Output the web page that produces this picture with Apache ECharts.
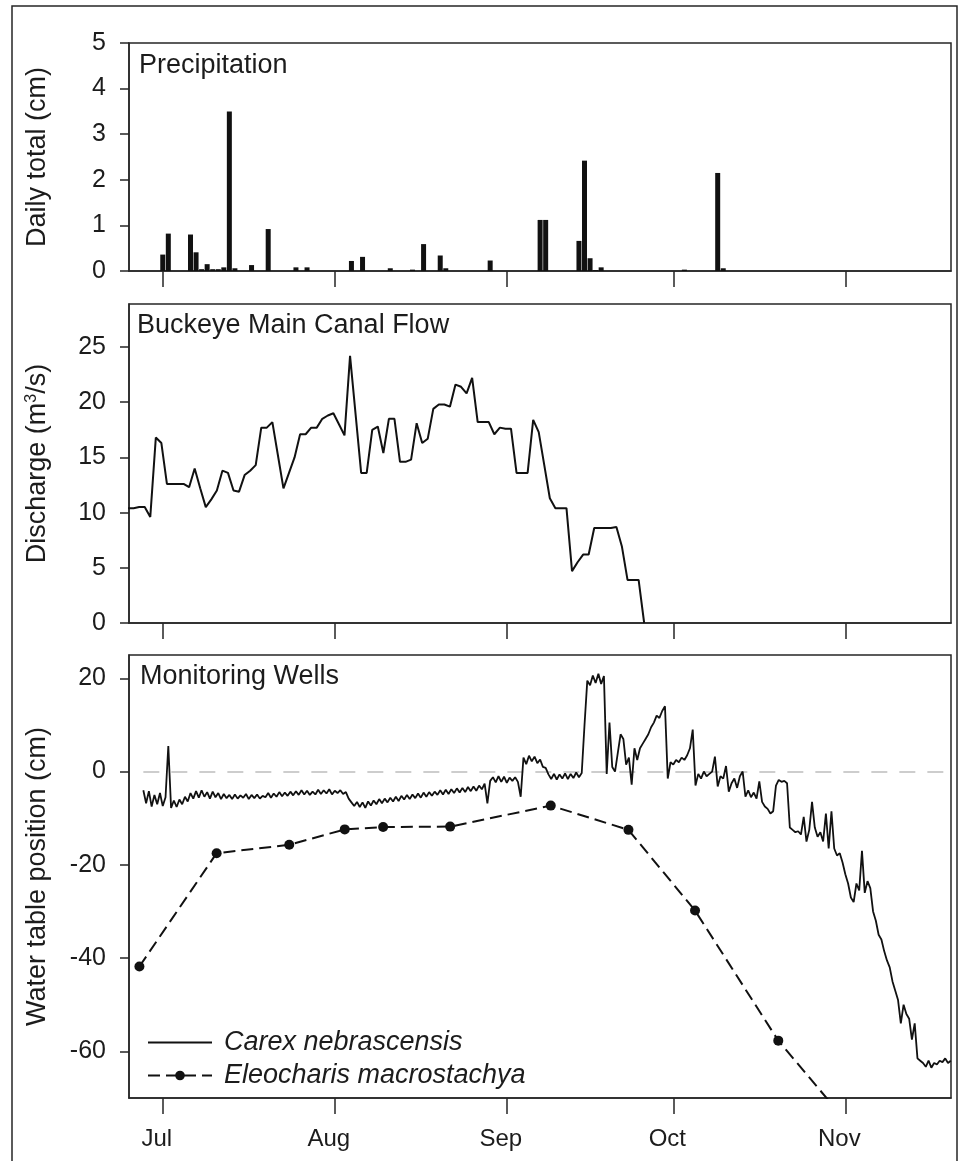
<!DOCTYPE html>
<html>
<head>
<meta charset="utf-8">
<title>Precipitation, canal flow and monitoring wells</title>
<script src="https://cdn.jsdelivr.net/npm/echarts@6.0.0/dist/echarts.min.js"></script>
<style>
  html, body { margin: 0; padding: 0; background: #fff; }
  #chart { width: 959px; height: 1161px; }
</style>
</head>
<body>
<div id="chart"></div>
<script>
// x axis ticks (month starts) and their labels
const monthTicks = ['2012-07-01', '2012-08-01', '2012-09-01', '2012-10-01', '2012-11-01'];
const monthLabels = ['Jul', 'Aug', 'Sep', 'Oct', 'Nov'];

// y axis ticks for each panel
const precipTicks = [0, 1, 2, 3, 4, 5];
const dischargeTicks = [0, 5, 10, 15, 20, 25];
const wellTicks = [-60, -40, -20, 0, 20];

// daily precipitation total (cm)
const precipDates = ['2012-07-01', '2012-07-02', '2012-07-06', '2012-07-07', '2012-07-08', '2012-07-09',
  '2012-07-10', '2012-07-11', '2012-07-12', '2012-07-13', '2012-07-14', '2012-07-17', '2012-07-20',
  '2012-07-25', '2012-07-27', '2012-08-04', '2012-08-06', '2012-08-11', '2012-08-15', '2012-08-17',
  '2012-08-20', '2012-08-21', '2012-08-29', '2012-09-07', '2012-09-08', '2012-09-14', '2012-09-15',
  '2012-09-16', '2012-09-17', '2012-09-18', '2012-10-03', '2012-10-09', '2012-10-10'];
const precipValues = [0.36, 0.82, 0.80, 0.41, 0.04, 0.15,
  0.04, 0.04, 0.08, 3.50, 0.06, 0.13, 0.92,
  0.08, 0.08, 0.22, 0.31, 0.06, 0.03, 0.59,
  0.34, 0.06, 0.23, 1.12, 1.12, 0.66, 2.42,
  0.28, 0.02, 0.08, 0.03, 2.15, 0.06];

// canal discharge (m3/s), one value per day starting Jun 24
const dischargeStart = '2012-06-24 18:00';
const dischargeValues = [
  10.4, 10.4, 10.5, 10.5, 9.6, 16.8, 16.3,
  12.6, 12.6, 12.6, 12.6, 12.3, 14.0, 12.2, 10.5, 11.2, 12.0, 13.8, 13.6, 12.0, 11.9, 13.4, 13.8,
  14.3, 17.7, 17.7, 18.2, 15.2, 12.2, 13.6, 15.0, 17.1, 17.1, 17.7, 17.7, 18.5, 18.8, 19.0,
  18.0, 17.0, 24.2, 18.9, 13.6, 13.6, 17.5, 17.8, 15.4, 18.5, 18.5, 14.6, 14.6, 14.8, 18.1,
  16.3, 16.7, 19.4, 19.8, 19.8, 19.6, 21.6, 21.4, 20.8, 22.2, 18.2, 18.2, 18.2, 17.1, 17.7, 17.6,
  17.6, 13.6, 13.6, 13.6, 18.4, 17.3, 14.3, 11.3, 10.4, 10.4, 10.4, 4.7, 5.5, 6.2, 6.2,
  8.6, 8.6, 8.6, 8.6, 8.7, 6.9, 3.9, 3.9, 3.9, 0
];

// Carex nebrascensis well, water table (cm), every 12 h from Jun 27 12:00
const carexStart = '2012-06-27 12:00';
const carexValues = [
  -4.0, -6.8, -4.2, -7.5, -5.0, -7.0, -4.6, -7.4, -5.5, 5.5, -7.8, -6.2, -7.6, -6.0,
  -7.0, -5.4, -6.4, -4.6, -5.8, -4.2, -5.6, -4.0, -5.4, -4.4, -5.8, -4.3, -5.5, -4.6,
  -5.9, -4.8, -5.7, -5.0, -5.9, -4.9, -5.8, -5.1, -5.6, -4.8, -5.9, -5.0, -5.7, -4.9,
  -5.8, -5.2, -5.5, -4.6, -5.6, -4.7, -5.4, -4.4, -5.3, -4.5, -5.2, -4.3, -5.1, -4.2,
  -5.0, -4.0, -4.9, -4.1, -5.0, -4.3, -4.9, -3.9, -4.8, -4.0, -4.7, -3.8, -4.9, -4.1,
  -4.6, -4.0, -4.8, -4.4, -5.8, -6.6, -7.4, -6.5, -7.6, -6.6, -7.8, -6.4, -7.3, -6.2,
  -7.0, -5.9, -6.8, -5.8, -6.6, -5.6, -6.4, -5.4, -6.3, -5.2, -6.0, -5.0, -5.9, -4.9,
  -5.7, -4.7, -5.6, -4.5, -5.4, -4.4, -5.2, -4.3, -5.0, -4.0, -4.9, -3.9, -4.8, -3.8,
  -4.6, -3.6, -4.5, -3.5, -4.4, -3.3, -4.2, -3.2, -4.1, -3.0, -3.8, -2.6, -6.8, -2.0,
  -1.2, -2.3, -1.0, -2.2, -1.1, -2.4, -1.3, -2.0, -1.2, -2.2, -5.4, 3.0, 1.6, 3.4,
  2.2, 3.2, 1.8, 2.6, 1.0, 0.8, -0.6, -1.6, -0.5, -1.7, -0.6, -1.5, -0.4, -1.6,
  -0.5, -1.4, -0.2, -1.2, -0.3, 10.0, 19.5, 18.5, 20.6, 19.0, 21.0, 18.8, 20.5, -0.5,
  10.5, 1.0, 0.0, 4.0, 8.0, 7.0, 1.5, 3.0, -2.8, 5.0, 2.5, 5.0, 6.0, 7.0,
  8.0, 9.5, 10.5, 12.0, 11.5, 13.0, 14.0, -1.5, 2.0, 1.5, 2.5, 2.0, 3.0, 2.5,
  3.5, 5.0, 9.0, -3.0, -0.5, -1.5, 0.0, -1.0, -0.5, 0.0, 3.2, -3.2, -1.0, -1.5,
  1.2, -4.3, -2.5, -1.5, -3.5, -1.0, 0.0, -5.4, -4.0, -5.5, -4.5, -5.8, -2.1, -6.5,
  -7.5, -8.0, -9.0, -8.5, -3.0, -1.8, -2.2, -2.0, -2.5, -12.0, -12.5, -13.0, -12.8, -13.5,
  -9.7, -15.0, -12.5, -6.5, -12.0, -14.0, -13.0, -15.0, -9.0, -16.5, -8.5, -16.5, -18.0, -17.5,
  -19.5, -22.0, -24.0, -27.0, -28.0, -24.0, -25.5, -17.0, -26.0, -23.5, -25.0, -30.0, -32.0, -35.0,
  -36.0, -38.5, -40.5, -42.0, -45.0, -47.0, -49.0, -54.0, -50.0, -52.0, -53.0, -57.5, -54.0, -61.5,
  -62.0, -62.5, -63.3, -62.0, -63.5, -62.5, -62.8, -62.0, -62.3, -61.5, -62.5, -62.0
];

// Eleocharis macrostachya well readings (cm)
const eleoDates = ['2012-06-26 19:00', '2012-07-10 17:00', '2012-07-23 19:00', '2012-08-02 19:00',
  '2012-08-09 17:00', '2012-08-21 19:00', '2012-09-08 22:00', '2012-09-22 22:00',
  '2012-10-04 22:00', '2012-10-19 22:00', '2012-11-02 22:00'];
const eleoValues = [-41.8, -17.5, -15.7, -12.4, -11.9, -11.8, -7.3, -12.5, -29.8, -57.7, -77.5];

const DAY = 86400000;
const axisColor = '#262626';
const textColor = '#1c1c1c';
const font = "'Liberation Sans', Arial, Helvetica, sans-serif";

// parse 'yyyy-mm-dd hh:mm' as UTC timestamp
const toTime = (s) => {
  const [d, h] = s.split(' ');
  const [y, m, dd] = d.split('-').map(Number);
  const hh = h ? Number(h.split(':')[0]) : 0;
  return Date.UTC(y, m - 1, dd, hh);
};

const xMin = toTime('2012-06-24 22:00');
const xMax = toTime('2012-11-20 01:00');
const tickTimes = monthTicks.map(toTime);

const monthFormatter = (v) => {
  const i = tickTimes.findIndex((t) => Math.abs(t - v) < DAY / 2);
  return i >= 0 ? monthLabels[i] : '';
};

const lineStyleAxis = { color: axisColor, width: 1.5 };

// dates are kept as numbers on a value axis so the month ticks can be placed exactly
const makeXAxis = (gridIndex, showLabels) => ({
  type: 'value',
  gridIndex,
  min: xMin,
  max: xMax,
  axisLine: { show: true, onZero: false, lineStyle: lineStyleAxis },
  axisTick: { show: true, inside: false, length: 16, customValues: tickTimes, lineStyle: lineStyleAxis },
  axisLabel: {
    show: showLabels,
    customValues: tickTimes,
    formatter: monthFormatter,
    margin: 29,
    fontSize: 24,
    color: textColor,
    fontFamily: font,
    padding: [0, 12, 0, 0],
  },
  splitLine: { show: false },
});

const makeYAxis = (gridIndex, min, max, ticks, name) => ({
  type: 'value',
  gridIndex,
  min,
  max,
  name,
  nameLocation: 'middle',
  nameRotate: 90,
  nameGap: 78,
  nameTextStyle: {
    fontSize: 27,
    color: textColor,
    fontFamily: font,
    rich: { sup: { fontSize: 16, verticalAlign: 'top', color: textColor, fontFamily: font } },
  },
  axisLine: { show: true, onZero: false, lineStyle: lineStyleAxis },
  axisTick: { show: true, inside: false, length: 9, customValues: ticks, lineStyle: lineStyleAxis },
  axisLabel: { customValues: ticks, margin: 23, fontSize: 25, color: textColor, fontFamily: font },
  splitLine: { show: false },
});

const gridBase = { left: 129, width: 822, show: true, borderColor: axisColor, borderWidth: 1.5, outerBoundsMode: 'none' };

const chart = echarts.init(document.getElementById('chart'));

chart.setOption({
  animation: false,
  backgroundColor: '#fff',
  grid: [
    { ...gridBase, top: 43, height: 228 },
    { ...gridBase, top: 304, height: 319 },
    { ...gridBase, top: 655, height: 443 },
  ],
  xAxis: [makeXAxis(0, false), makeXAxis(1, false), makeXAxis(2, true)],
  yAxis: [
    makeYAxis(0, 0, 5, precipTicks, 'Daily total (cm)'),
    makeYAxis(1, 0, 28.9, dischargeTicks, 'Discharge (m{sup|3}/s)'),
    makeYAxis(2, -70, 25, wellTicks, 'Water table position (cm)'),
  ],
  legend: {
    data: ['Carex nebrascensis', 'Eleocharis macrostachya'],
    orient: 'vertical',
    left: 142,
    top: 1024,
    itemWidth: 64,
    itemHeight: 12,
    itemGap: 6,
    selectedMode: false,
    textStyle: { fontSize: 27, fontStyle: 'italic', color: textColor, fontFamily: font, padding: [0, 0, 0, 7] },
  },
  graphic: [
    {
      type: 'rect',
      shape: { x: 12, y: 6, width: 945, height: 1175 },
      style: { fill: 'none', stroke: axisColor, lineWidth: 1.5 },
      silent: true,
    },
    { type: 'text', left: 139, top: 52, style: { text: 'Precipitation', fontSize: 27, fontFamily: font, fill: textColor } },
    { type: 'text', left: 137, top: 312, style: { text: 'Buckeye Main Canal Flow', fontSize: 27, fontFamily: font, fill: textColor } },
    { type: 'text', left: 140, top: 663, style: { text: 'Monitoring Wells', fontSize: 27, fontFamily: font, fill: textColor } },
  ],
  series: [
    {
      name: 'Precipitation',
      type: 'bar',
      xAxisIndex: 0,
      yAxisIndex: 0,
      barWidth: 5,
      itemStyle: { color: '#111' },
      data: precipDates.map((d, i) => [toTime(d), precipValues[i]]),
    },
    {
      name: 'Discharge',
      type: 'line',
      xAxisIndex: 1,
      yAxisIndex: 1,
      symbol: 'none',
      lineStyle: { color: '#111', width: 2 },
      data: dischargeValues.map((v, i) => [toTime(dischargeStart) + i * DAY, v]),
    },
    {
      name: 'Carex nebrascensis',
      type: 'line',
      xAxisIndex: 2,
      yAxisIndex: 2,
      symbol: 'none',
      itemStyle: { color: 'rgba(0,0,0,0)' },
      lineStyle: { color: '#111', width: 1.8 },
      data: carexValues.map((v, i) => [toTime(carexStart) + i * DAY / 2, v]),
      markLine: {
        silent: true,
        z: 1,
        symbol: ['none', 'none'],
        label: { show: false },
        lineStyle: { color: '#bdbdbd', type: [16, 12], width: 1.5 },
        data: [[
          { coord: [toTime(carexStart), 0] },
          { coord: [toTime(carexStart) + (carexValues.length - 1) * DAY / 2, 0] },
        ]],
      },
    },
    {
      name: 'Eleocharis macrostachya',
      type: 'line',
      xAxisIndex: 2,
      yAxisIndex: 2,
      symbol: 'circle',
      symbolSize: 10,
      itemStyle: { color: '#111' },
      lineStyle: { color: '#111', width: 2, type: [12, 6] },
      data: eleoDates.map((d, i) => [toTime(d), eleoValues[i]]),
    },
  ],
});
</script>
</body>
</html>
